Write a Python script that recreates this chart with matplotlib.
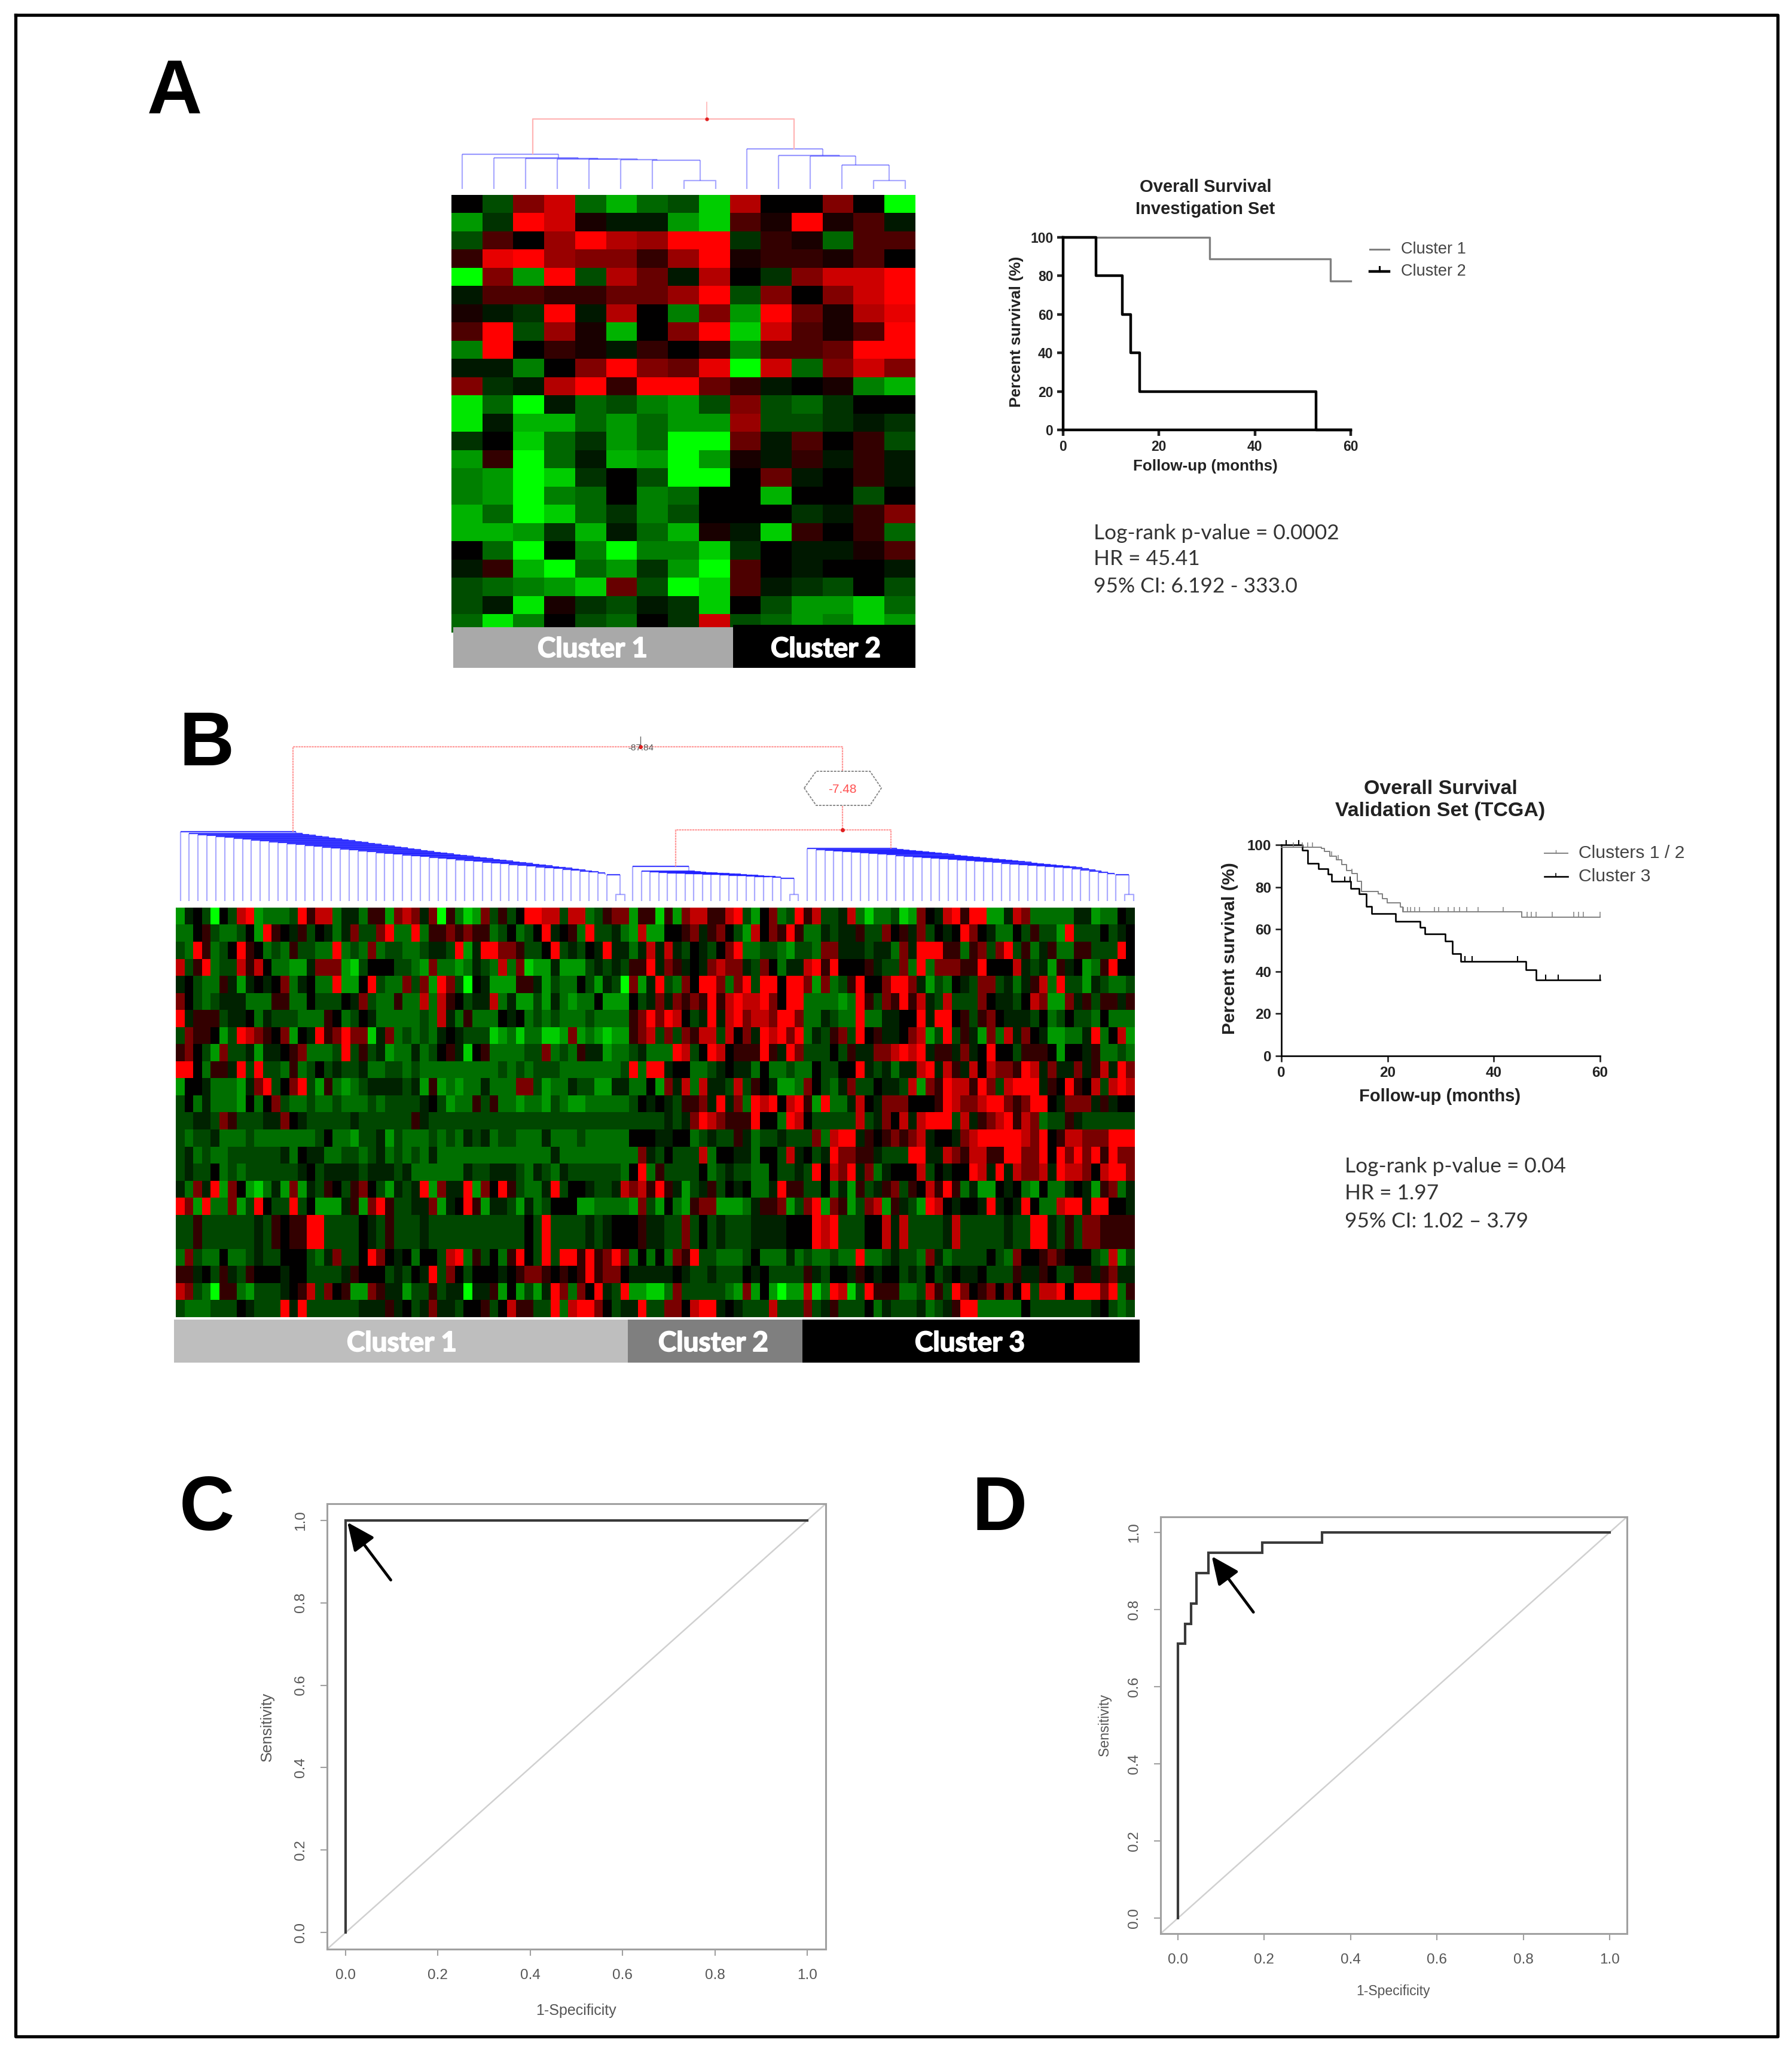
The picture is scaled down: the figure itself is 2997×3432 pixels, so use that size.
import numpy as np
import matplotlib
matplotlib.use('Agg')
import matplotlib.pyplot as plt
import matplotlib.patheffects as pe
from matplotlib.colors import LinearSegmentedColormap

plt.rcParams['font.family'] = ['Liberation Sans', 'DejaVu Sans']

W, H = 2997, 3432

# panel A heatmap, -10 green .. 10 red
heat_a = [
    [0, -3, 5, 8, -4, -7, -4, -3, -8, 7, 0, 0, 5, 0, -10],
    [-6, -2, 10, 8, 1, -1, -1, -6, -8, 3, 1, 10, 1, 3, -1],
    [-3, 3, 0, 6, 10, 7, 6, 10, 10, -2, 2, 1, -4, 3, 3],
    [2, 9, 10, 6, 5, 5, 2, 6, 10, 1, 2, 2, 1, 3, 0],
    [-10, 5, -6, 10, -3, 7, 4, -1, 7, 0, -2, 5, 8, 8, 10],
    [-1, 3, 3, 2, 2, 4, 4, 6, 10, -3, 5, 0, 5, 8, 10],
    [1, -1, -2, 10, -1, 7, 0, -5, 5, -6, 10, 4, 1, 7, 9],
    [3, 10, -3, 6, 1, -7, 0, 5, 10, -8, 8, 3, 1, 3, 10],
    [-5, 10, 0, 2, 1, -1, 2, 0, 2, -5, 3, 3, 4, 10, 10],
    [-1, -1, -5, 0, 5, 10, 5, 4, 9, -10, 8, -4, 5, 8, 5],
    [5, -2, -1, 7, 10, 2, 10, 10, 4, 2, -1, 0, 1, -5, -7],
    [-9, -4, -10, -1, -4, -3, -5, -6, -3, 5, -3, -4, -2, 0, 0],
    [-9, -1, -7, -7, -4, -6, -4, -6, -6, 6, -3, -3, -2, -1, -2],
    [-2, 0, -8, -4, -2, -6, -4, -10, -10, 4, -1, 3, 0, 2, -3],
    [-6, 2, -10, -4, -1, -7, -6, -10, -6, 1, -1, 2, -1, 2, -1],
    [-5, -6, -10, -8, -2, 0, -3, -10, -10, 0, 4, -1, 0, 2, -1],
    [-5, -6, -10, -5, -4, 0, -5, -4, 0, 0, -7, 0, 0, -3, 0],
    [-7, -4, -10, -8, -4, -2, -5, -3, 0, 0, 0, -2, -1, 2, 5],
    [-7, -7, -6, -2, -7, -1, -4, -7, 1, -1, -8, 2, 0, 2, -4],
    [0, -4, -10, 0, -5, -10, -5, -5, -8, -2, 0, -1, -1, 1, 3],
    [-1, 2, -7, -10, -4, -6, -2, -6, -10, 3, 0, -1, 0, 0, -1],
    [-3, -4, -5, -6, -8, 4, -3, -10, -8, 3, -1, -2, -3, 0, -3],
    [-3, -1, -9, 1, -2, -3, -1, -2, -8, 0, -3, -6, -6, -8, -4],
    [-4, -9, -5, 0, -3, -4, 0, -2, 8, -3, -4, -6, -5, -8, -6],
]

# panel B heatmap read column block by column block, one letter per cell
levels = {'R': 10, 'r': 7.5, 'd': 4.7, 'e': 2, '.': 0, 'k': -1.4, 'g': -2.8, 'm': -4.3, 'G': -6, 'B': -8, 'L': -10}

block1 = [
    "Gk.gL.grRGmmmgRerrmkkmeeGdrd",
    "mm.egmmg.GRe.keg.kmkdggdRmmR",
    "gmRemg.Re.mgmeggmmRmgmdmggmm",
    "rgeRmggrer.mmGGkdddGBg...ggm",
    "k.gmmekGk.k.dmk.mmRGG.Rgmmdg",
    "d.gmgkkkmmmeemm.ggg.kdgmmemm",
    "Rkeeegkk.mkgggmmme.mg.kmmmmm",
    "gdee.GgRrde.dG.kRedRddBkdmgm",
    "ed.gGdggkGkk.edmmmgRgegkGmmk",
    "RR.meekRgRggmemg.gkggkmmggmg",
    "G..kmmmGkdRg.dRgGemGmgkkkkgk",
    "g.mkmmmG.m.dgmmgmmgmmmgmgggg",
    "ggkkgdegggkkd.kgggggkgggggge",
    "gmggkmmmgmmmmmmmg.mmGggkGgmm",
    "gkmgmmggggggkm.kkmmggmgkmgmg",
    "gkgg.mgmggggggk.gkkkkgkkkgkm",
    "kmdkRGd.GBmkGdGkge.ged.gGkgk",
    "RdGRmmdGgR.ggRg.GGGkeGdReggk",
    "ggeggggggkge.eeRRgggg.kgeggg",
    "ggeggggggkge.eeRRgggg.kgeggg",
    "mdgmm.mmgkgg...gmkdgg.Rd.k.m",
    "eek.gekge...k..ggggke...gkg.",
    "rdgmLeemGgggk.ergd.eGGdekkGg",
    "gmmmggg.kgggRkRggggggkkkek.g",
]
block2 = [
    "kdLemBGdgeg.RRrrgrrmgeddGee",
    "meededeemg.mg.Rk.emRggkmGrG",
    "gkkgRGkRRddegg.Rgkg.kRkkmkr",
    "GdmmGmkgmrmdBGGkGGGgkgkgeeR",
    "dGRdgL.kGGGeekGgmm.gGkgLdGk",
    "rmre.gkkrmkGGgGkmGmm.GGG.gk",
    "gmrkmemmm.k.mgmgmmmgmmmmedR",
    "gmk.kgggBGmBmmBBGdGmGBGGedr",
    "mg.ekB.emmmmggdmgmekkGmmgkm",
    "mmmmmmmmmgmgmgggmmmmmmmgRmR",
    "GeGmGmmkmmmddgGmmkggGGkkmm.",
    "k.gGmmegemmGmmGgmGGmmmmmg.k",
    "kgggggggggggggggggggggggggg",
    "mgmgmkgkmggmmmkmmmgmmmmm...",
    "mkmmmmmmmmmmmmmkmmmmmmmmmdk",
    "mmmmmkggkkkgmkgmkggggggm.Rm",
    "RGdkkRGd.RegmmkRg..kggkrdre",
    "kdGk.ReGkkgGkmg...GGmmmmGdg",
    "kggggggggggg.gRggggkgk...ek",
    "kggggggggggg.gRggggkgk...ek",
    "..grRmeg.meR.gRgRReRedRdm.m",
    "kRgd.g...k.edde.e.eRedd.kkk",
    "gegkkLkkeG.GgGkRdmd.RkgRGGB",
    "kdkkg..eg.reeggRmrRRd.gkkRg",
]
block3 = [
    "BeGdrreerRgG.dmgRerggkrmBmmg",
    "G..edked.gGr.deRemmkgkkeggd.",
    "krkg.kg.dRmmggmGggmddkkkgkkm",
    "kdek.kdrddkgd.mkkrReR...ekgg",
    "Rgmd.RRdmdRgRR.RRdGdmgeR..dR",
    "dkdedeRerRrrRd.RRmmmmGmRegde",
    "dRr.gkRkrRdrrdRRdmmkgmmRmmkk",
    "gdgderrgr.dkRrRdRmkgedgR.ekk",
    "mmRrg.Rr.eeeRekRdggg.gekkddr",
    "Rk..mmgk.kkm.mmgmm.gg..Rkgkm",
    "Gdkrmrkkgrge.kGGmd.gmkdgg.kk",
    ".kgeedkRkdmRrR.rReGRmmkr.kdd",
    "gkgkdRrdeeeR..mRr.gggggrgkd.",
    "kk..mgkggekmggkgggdmrRRke.ed",
    "g.gggrm..kkm..grk.gkRddeekgg",
    "egggg.mgkggmm.ggkgR.rdRkdmk.",
    "RekGgkeg.k.mmkReegg.mkGegked",
    "G.mGeddGGGmkeedGgdRGdeGgdrGe",
    "kggdg.gkgggkkkk...RrRggg..rk",
    "kggdg.gkgggkkkk...RrRggg..rk",
    ".mdeRggmmmg.mmmkmgmmgmmRmmgk",
    "kk.kggkggg.k.ggggekg..ke.k..",
    "BmdgggggmGdG.GLGGrBmRrBgReee",
    "gdd.rRRk.kgggrgggdgkeggg.mkg",
]
block4 = [
    "BGd.krReRRGGkrdmmmmmkkGmm.k",
    "ekdg.k.Rd.kmm.geggGRggg.gk.",
    "dkRRReemedgdRgemkemmeegggR.",
    "dmRmdddeeR...rkgkGek.GmeR..",
    "RdkGgm.kgddgkmkermRggGkgmmg",
    "Rerkgrgggd.kkg.rdGGdkegeeke",
    "..RkRR.eged.kkkg.mg.ggm.mmm",
    ".drGgRgekGdmrkd.kGGmmkRm.rG",
    "RrRkeekdk.R..geee.G..kemmgm",
    "kkrRkrekr.rddeRrkdkkdkerkRd",
    "grGdeRrreRdgrRRRke.Re.rgrRr",
    "d...eRrddrRRdedRR.kdddkek..",
    "rkrRRRgrkedrRerdmggekgggggg",
    "edrk..kdrRRRRRrdR.errdddRRR",
    "gRRkkrderreeRRddR.RdRdReRdd",
    "..rg.k..RrkRkrddrkRrrd.rRRd",
    "ge.reRemkGG.k.mG.mmk.kGedmk",
    "kgGRr.k..kRk.kR.mmrRRkRR..k",
    "rggggkrgggggkggRRkgegddeeee",
    "rggggkrgggggkggRRkgegddeeee",
    "ggmdkmgggg.gmd..ede...gmrGg",
    "gkg.gk.kk.gggekke.ggeekedkk",
    "mmgregRd.ed.d.RgrrR.RRRdRme",
    "ggkmgkeRRmmmmm.gggggggk.gmg",
]

# dendrogram merge heights above the leaves
tree_a1 = [58, 52, 51, 50, 49.5, 48.5, 47.5, 13.5]
tree_a2 = [67, 55.5, 55, 40, 13.5]
tree_b1 = [116, 113, 111, 110, 108, 107, 105, 104, 102, 101,
           99, 98, 96, 95, 93, 92, 90, 89, 87, 86,
           84, 83, 81, 80, 79, 77, 76, 75, 73, 72,
           71, 69, 68, 67, 65, 64, 63, 61, 60, 59,
           57, 56, 55, 53, 52, 50, 49, 47, 44, 11]
tree_b2 = [58, 50, 49, 48, 47.5, 47, 46.5, 46, 45.5, 45, 44, 43.5, 43, 42, 41.5, 41, 40, 38.5, 11]
tree_b3 = [88, 86, 85, 84, 83, 82, 81, 80, 79, 78,
           76, 75, 74, 73, 72, 71, 70, 69, 68, 67,
           66, 65, 63, 62, 61, 60, 59, 58, 57, 56,
           54, 52, 50, 48, 46, 44, 11]

# survival curves, panel A
km_a1_t = [0, 30.5, 55.8, 60]
km_a1_s = [100, 88.9, 77.4, 77.4]
km_a2_t = [0, 6.8, 12.4, 14.1, 16, 52.8, 60]
km_a2_s = [100, 80, 60, 40, 20, 0, 0]

# survival curves, panel B
km_b1_t = [0, 7.5, 8.1, 9.1, 10.4, 11.4, 12.3, 13.3, 14.3, 15.1, 18.2, 19, 19.9, 22.4, 22.9, 45.3, 60]
km_b1_s = [98.8, 98.3, 97, 94.5, 92.8, 90.6, 87.7, 86.3, 82.7, 77.9, 76.9, 74.4, 72.5, 70.4, 68.2, 65.8, 65.8]
km_b1_cens = [2.2, 3.9, 5, 5.9, 9.4, 10.7, 13.3, 23, 23.7, 24.3, 25.1, 26, 28.8, 29.6, 31.4, 32.5, 33.5, 34.9,
              37, 41.8, 46.3, 47.1, 48, 51, 55.1, 56, 56.8, 60]
km_b2_t = [0, 3.9, 5, 7, 8.8, 9.4, 13.1, 14.6, 16, 17, 21.5, 26.1, 27, 30.8, 32.2, 33.8, 46, 48, 60]
km_b2_s = [100, 97.4, 91.3, 88.7, 86, 82.7, 79.3, 76.9, 70.8, 67.3, 63.8, 61, 57.8, 54.5, 48.4, 44.8, 40.8, 36, 36]
km_b2_cens = [0.9, 3.3, 11.9, 12.9, 34.6, 35.9, 44.5, 49.8, 52.1, 60]

# ROC curves
roc_c_x = [0, 0, 1]
roc_c_y = [0, 1, 1]
roc_d_x = [0, 0, 0.0168, 0.0168, 0.03, 0.03, 0.043, 0.043, 0.0705, 0.0705, 0.196, 0.196, 0.334, 0.334, 1]
roc_d_y = [0, 0.711, 0.711, 0.762, 0.762, 0.816, 0.816, 0.894, 0.894, 0.947, 0.947, 0.973, 0.973, 1, 1]

rg = LinearSegmentedColormap.from_list('rg', ['#00ff00', '#000000', '#ff0000'])

fig = plt.figure(figsize=(W / 100, H / 100), dpi=100, facecolor='white')


def panel(x0, y0, x1, y1):
    return fig.add_axes([x0 / W, 1 - y1 / H, (x1 - x0) / W, (y1 - y0) / H])


def draw_tree(ax, first, step, heights, base, reach, band_alpha):
    n = len(heights) + 1
    xs = [first + i * step for i in range(n)]
    ys = [base - h for h in heights]
    pair = (xs[-1] + xs[-2]) / 2
    kw = dict(color='#2020ff', alpha=0.38, lw=1.6, solid_capstyle='butt')
    band = dict(color='#2020ff', alpha=band_alpha, lw=1.6, solid_capstyle='butt')
    for i in range(n - 2):
        end = pair if i == n - 3 else xs[i] + reach * (xs[-1] - xs[i])
        ax.plot([xs[i], xs[i]], [base, ys[i]], **kw)
        ax.plot([xs[i], end], [ys[i], ys[i]], **band)
        ax.plot([end, end], [ys[i], ys[i + 1]], **kw)
    ax.plot([xs[-2], xs[-2], xs[-1], xs[-1]], [base, ys[-1], ys[-1], base], **kw)


def km_axes(x0, y0, x1, y1, spine_lw, tick_size):
    ax = panel(x0, y0, x1, y1)
    ax.set_xlim(0, 60)
    ax.set_ylim(0, 100)
    ax.set_xticks([0, 20, 40, 60])
    ax.set_yticks([0, 20, 40, 60, 80, 100])
    for s in ['top', 'right']:
        ax.spines[s].set_visible(False)
    for s in ['left', 'bottom']:
        ax.spines[s].set_linewidth(spine_lw)
    ax.tick_params(width=spine_lw, length=7, labelsize=tick_size, colors='#222222', pad=5)
    for lab in ax.get_xticklabels() + ax.get_yticklabels():
        lab.set_fontweight('bold')
    return ax


def censor_marks(ax, times, steps_t, steps_s, color, lw):
    idx = np.searchsorted(steps_t, times, side='right') - 1
    s = np.array(steps_s)[idx]
    ax.vlines(times, s, s + 2.4, color=color, lw=lw, clip_on=False, zorder=4)


def roc_axes(x0, y0, x1, y1, xs, ys, tail, tip):
    ax = panel(x0, y0, x1, y1)
    ax.set_xlim(-0.04, 1.04)
    ax.set_ylim(-0.04, 1.04)
    ticks = [0, 0.2, 0.4, 0.6, 0.8, 1.0]
    ax.set_xticks(ticks)
    ax.set_yticks(ticks)
    ax.set_xticklabels(['%.1f' % t for t in ticks])
    ax.set_yticklabels(['%.1f' % t for t in ticks], rotation=90, va='center')
    for s in ax.spines.values():
        s.set_linewidth(2.2)
        s.set_color('#a0a0a0')
    ax.tick_params(width=1.5, length=8, color='#a0a0a0', labelcolor='#555555', labelsize=17.5, pad=16)
    ax.plot([-0.04, 1.04], [-0.04, 1.04], color='#d0d0d0', lw=1.8)
    ax.plot(xs, ys, color='#3a3a3a', lw=3, solid_joinstyle='miter')
    ax.annotate('', xy=tip, xytext=tail,
                arrowprops=dict(arrowstyle='-|>,head_length=1.9,head_width=0.85', lw=3.4, color='black',
                                mutation_scale=15, shrinkA=0, shrinkB=0))
    return ax


# heatmaps
ax = panel(755, 326, 1531, 1058)
ax.imshow(np.array(heat_a), cmap=rg, vmin=-10, vmax=10, aspect='auto', interpolation='nearest')
ax.axis('off')

rows_b = [a + b + c + d for a, b, c, d in zip(block1, block2, block3, block4)]
heat_b = np.array([[levels[ch] for ch in r] for r in rows_b])
ax = panel(294, 1518, 1897, 2203)
ax.imshow(heat_b, cmap=rg, vmin=-10, vmax=10, aspect='auto', interpolation='nearest')
ax.axis('off')

# survival plots
ax = km_axes(1778, 397, 2259, 719, 3.2, 16.5)
ax.step(km_a1_t, km_a1_s, where='post', color='#808080', lw=2.4, clip_on=False, zorder=3)
ax.step(km_a2_t, km_a2_s, where='post', color='black', lw=3.2, clip_on=False, zorder=4)

ax = km_axes(2143, 1413, 2676, 1766, 1.9, 17.5)
ax.step(km_b1_t, km_b1_s, where='post', color='#808080', lw=1.4, clip_on=False, zorder=3)
ax.step(km_b2_t, km_b2_s, where='post', color='black', lw=1.9, clip_on=False, zorder=4)
censor_marks(ax, km_b1_cens, km_b1_t, km_b1_s, '#808080', 1.1)
censor_marks(ax, km_b2_cens, km_b2_t, km_b2_s, 'black', 1.5)

# ROC plots
roc_axes(547, 2515, 1381, 3260, roc_c_x, roc_c_y, (0.098, 0.855), (0.004, 0.995))
roc_axes(1941, 2537, 2721, 3234, roc_d_x, roc_d_y, (0.175, 0.793), (0.0785, 0.938))

# everything else goes on a pixel overlay
ov = fig.add_axes([0, 0, 1, 1], zorder=10)
ov.set_xlim(0, W)
ov.set_ylim(H, 0)
ov.axis('off')
ov.patch.set_alpha(0)

ov.plot([26, 2973, 2973, 26, 26], [25, 25, 3406, 3406, 25], color='black', lw=3.8, solid_joinstyle='round')

for letter, x, y in [('A', 246, 190), ('B', 299, 1280), ('C', 300, 2559), ('D', 1626, 2559)]:
    ov.text(x, y, letter, fontsize=92, fontweight='bold', ha='left', va='baseline', color='black')

# panel A dendrogram
draw_tree(ov, 772.6, 53.1, tree_a1, 315.6, 0.38, 0.45)
draw_tree(ov, 1248.5, 53.1, tree_a2, 315.6, 0.48, 0.45)
pink = '#ffb4b4'
ov.plot([891, 891, 1328, 1328], [257, 199, 199, 249], color=pink, lw=1.6)
ov.plot([1182, 1182], [171, 199], color=pink, lw=1.2)
ov.plot([1182], [199], 'o', color='#e02020', ms=3.5)

# panel B dendrogram
draw_tree(ov, 301.6, 14.86, tree_b1, 1507, 0.26, 0.85)
draw_tree(ov, 1058, 14.6, tree_b2, 1507, 0.34, 0.85)
draw_tree(ov, 1350, 14.75, tree_b3, 1507, 0.275, 0.85)
rose = '#ff9a9a'
ov.plot([490, 490, 1409, 1409], [1391, 1249, 1249, 1388], color=rose, lw=1.6, ls=(0, (1.5, 0.5)))
ov.plot([1130, 1130, 1490, 1490], [1449, 1388, 1388, 1419], color=rose, lw=1.6, ls=(0, (1.5, 0.5)))
ov.plot([1071, 1071], [1232, 1249], color='#666666', lw=1)
ov.plot([1071, 1409], [1249, 1388], 'o', color='#e02020', ms=4)
ov.text(1072, 1251, '-87.84', fontsize=11, color='#555555', ha='center', va='center')
hex_x = [1345, 1365, 1455, 1474, 1455, 1365, 1345]
hex_y = [1318, 1290, 1290, 1318, 1347, 1347, 1318]
ov.fill(hex_x, hex_y, facecolor='white', edgecolor='#888888', lw=1.4, ls=(0, (2, 1)), zorder=5)
ov.text(1409, 1320, '-7.48', fontsize=15, color='#ff5050', ha='center', va='center', zorder=6)

# cluster bars
bars = [(758, 1226, 1049, 1117, '#a9a9a9', 'Cluster 1', 991, 1086),
        (1226, 1531, 1045, 1117, 'black', 'Cluster 2', 1381, 1086),
        (291, 1050, 2207, 2279, '#bebebe', 'Cluster 1', 672, 2247),
        (1050, 1342, 2207, 2279, '#7f7f7f', 'Cluster 2', 1193, 2247),
        (1342, 1906, 2207, 2279, 'black', 'Cluster 3', 1622, 2247)]
for x0, x1, y0, y1, col, lab, tx, ty in bars:
    ov.fill([x0, x1, x1, x0], [y0, y0, y1, y1], color=col, lw=0)
    t = ov.text(tx, ty, lab, color='white', fontsize=33, fontweight='bold', family='Lato', ha='center', va='center')
    t.set_path_effects([pe.withStroke(linewidth=1.3, foreground='white')])

# panel A survival text
dark = '#222222'
ov.text(2016, 313, 'Overall Survival', fontsize=21, fontweight='bold', color=dark, ha='center', va='center')
ov.text(2016, 350, 'Investigation Set', fontsize=21, fontweight='bold', color=dark, ha='center', va='center')
ov.text(1700, 555, 'Percent survival (%)', fontsize=19, fontweight='bold', color=dark, rotation=90, ha='center', va='center')
ov.text(2016, 780, 'Follow-up (months)', fontsize=18.7, fontweight='bold', color=dark, ha='center', va='center')
ov.plot([2291, 2323], [417, 417], color='#808080', lw=2.2)
ov.plot([2291, 2323], [454, 454], color='black', lw=3.2)
ov.plot([2307, 2307], [446, 454], color='black', lw=2.2)
ov.text(2343, 417, 'Cluster 1', fontsize=19.5, color='#444444', ha='left', va='center')
ov.text(2343, 454, 'Cluster 2', fontsize=19.5, color='#444444', ha='left', va='center')
for y, t in [(892, 'Log-rank p-value = 0.0002'), (935, 'HR = 45.41'), (981, '95% CI: 6.192 - 333.0')]:
    ov.text(1829, y, t, fontsize=25.4, family='Lato', color='#333333', ha='left', va='center')

# panel B survival text
ov.text(2409, 1320, 'Overall Survival', fontsize=24.5, fontweight='bold', color=dark, ha='center', va='center')
ov.text(2409, 1357, 'Validation Set (TCGA)', fontsize=24.5, fontweight='bold', color=dark, ha='center', va='center')
ov.text(2057, 1586, 'Percent survival (%)', fontsize=21.7, fontweight='bold', color=dark, rotation=90, ha='center', va='center')
ov.text(2408, 1834, 'Follow-up (months)', fontsize=21, fontweight='bold', color=dark, ha='center', va='center')
ov.plot([2583, 2622], [1427, 1427], color='#808080', lw=1.4)
ov.plot([2602, 2602], [1422, 1427], color='#808080', lw=1)
ov.plot([2583, 2622], [1466, 1466], color='black', lw=1.9)
ov.plot([2602, 2602], [1461, 1466], color='black', lw=1.2)
ov.text(2640, 1427, 'Clusters 1 / 2', fontsize=21.7, color='#444444', ha='left', va='center')
ov.text(2640, 1466, 'Cluster 3', fontsize=21.7, color='#444444', ha='left', va='center')
for y, t in [(1951, 'Log-rank p-value = 0.04'), (1996, 'HR = 1.97'), (2043, '95% CI: 1.02 \u2013 3.79')]:
    ov.text(2249, y, t, fontsize=25.4, family='Lato', color='#333333', ha='left', va='center')

# ROC labels
grey = '#555555'
ov.text(963, 3363, '1-Specificity', fontsize=18, color=grey, ha='center', va='center')
ov.text(447, 2888, 'Sensitivity', fontsize=18.5, color=grey, rotation=90, ha='center', va='center')
ov.text(2330, 3331, '1-Specificity', fontsize=16.5, color=grey, ha='center', va='center')
ov.text(1847, 2885, 'Sensitivity', fontsize=16.7, color=grey, rotation=90, ha='center', va='center')

fig.savefig('out.png', dpi=100, facecolor='white')
